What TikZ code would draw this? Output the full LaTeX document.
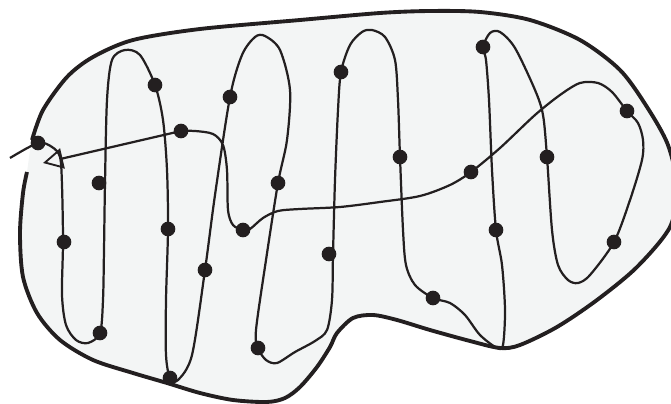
\documentclass[tikz,border=0pt]{standalone}
\usetikzlibrary{arrows.meta}
\definecolor{regiongray}{RGB}{243,245,245}
\definecolor{ink}{RGB}{35,31,32}

\begin{document}
\begin{tikzpicture}[x=0.03cm,y=-0.03cm,line width=1.9pt,draw=ink,
  dot/.style={circle,fill=ink,inner sep=0pt,minimum size=0.44cm},
  >={Triangle[open,length=0.6cm,width=0.62cm,line width=1.6pt]}]
  \useasboundingbox (0,0) rectangle (671,404);
  \clip (0,0) rectangle (671,404);
  % --- region ---
  \fill[regiongray] plot[smooth cycle] coordinates {(32,140) (43,110) (67,77) (93,57) (133,40) (200,29) (300,20) (380,13) (430,11) (480,12) (530,20) (580,40) (620,70) (647,107) (668,145) (677,187) (670,227) (637,267) (597,300) (557,327) (520,345) (500,348) (470,341) (430,330) (397,320) (373,315) (353,318) (337,333) (330,347) (317,367) (300,387) (285,398) (267,402) (233,400) (200,393) (167,383) (133,373) (93,360) (60,340) (37,313) (23,277) (20,233) (23,193) (27,172)};
  \draw[line width=3.3pt] plot[smooth] coordinates {(32,140) (43,110) (67,77) (93,57) (133,40) (200,29) (300,20) (380,13) (430,11) (480,12) (530,20) (580,40) (620,70) (647,107) (668,145) (677,187) (670,227) (637,267) (597,300) (557,327) (520,345) (500,348) (470,341) (430,330) (397,320) (373,315) (353,318) (337,333) (330,347) (317,367) (300,387) (285,398) (267,402) (233,400) (200,393) (167,383) (133,373) (93,360) (60,340) (37,313) (23,277) (20,233) (23,193) (27,172)};
  % --- tour ---
  \draw[->] plot[smooth] coordinates {(10,158) (38,143) (52,147) (60,157) (62,185) (63,242) (62,295) (66,325) (76,340) (88,343) (100,333) (103,300) (104,250) (105,183) (107,100) (112,60) (125,50) (140,55) (155,85) (163,120) (167,170) (168,229) (166,300) (166,355) (170,378) (178,380) (192,355) (205,270) (215,195) (230,97) (242,55) (255,37) (265,36) (280,50) (290,90) (287,140) (278,183) (266,260) (256,330) (258,348) (266,360) (277,363) (295,352) (315,341) (327,330) (332,300) (333,255) (335,180) (338,110) (341,72) (350,45) (362,32) (372,30) (385,37) (395,60) (398,100) (400,157) (403,230) (406,265) (415,285) (433,298) (450,303) (465,315) (480,335) (497,348) (503,345) (505,310) (502,265) (496,230) (492,170) (489,100) (486,60) (483,47) (490,33) (500,32) (515,48) (535,90) (543,115) (547,157) (552,230) (558,265) (568,280) (578,283) (590,275) (614,242) (630,200) (642,160) (643,140) (638,123) (627,111) (612,92) (598,83) (580,83) (560,95) (535,115) (500,148) (471,172) (450,185) (420,196) (380,202) (340,207) (300,209) (278,211) (263,218) (250,229) (243,230) (233,225) (228,210) (227,170) (223,145) (213,134) (195,131) (181,131)} -- (43,163);
  % --- cities ---
  \node[dot] (c1) at (38,143) {};
  \node[dot] (c2) at (64,242) {};
  \node[dot] (c3) at (100,333) {};
  \node[dot] (c4) at (99,183) {};
  \node[dot] (c5) at (155,85) {};
  \node[dot] (c6) at (168,229) {};
  \node[dot] (c7) at (170,378) {};
  \node[dot] (c8) at (205,270) {};
  \node[dot] (c9) at (230,97) {};
  \node[dot] (c10) at (278,183) {};
  \node[dot] (c11) at (258,348) {};
  \node[dot] (c12) at (329,254) {};
  \node[dot] (c13) at (341,72) {};
  \node[dot] (c14) at (400,157) {};
  \node[dot] (c15) at (433,298) {};
  \node[dot] (c16) at (496,230) {};
  \node[dot] (c17) at (483,47) {};
  \node[dot] (c18) at (547,157) {};
  \node[dot] (c19) at (614,242) {};
  \node[dot] (c20) at (627,111) {};
  \node[dot] (c21) at (471,172) {};
  \node[dot] (c22) at (243,230) {};
  \node[dot] (c23) at (181,131) {};
\end{tikzpicture}
\end{document}
